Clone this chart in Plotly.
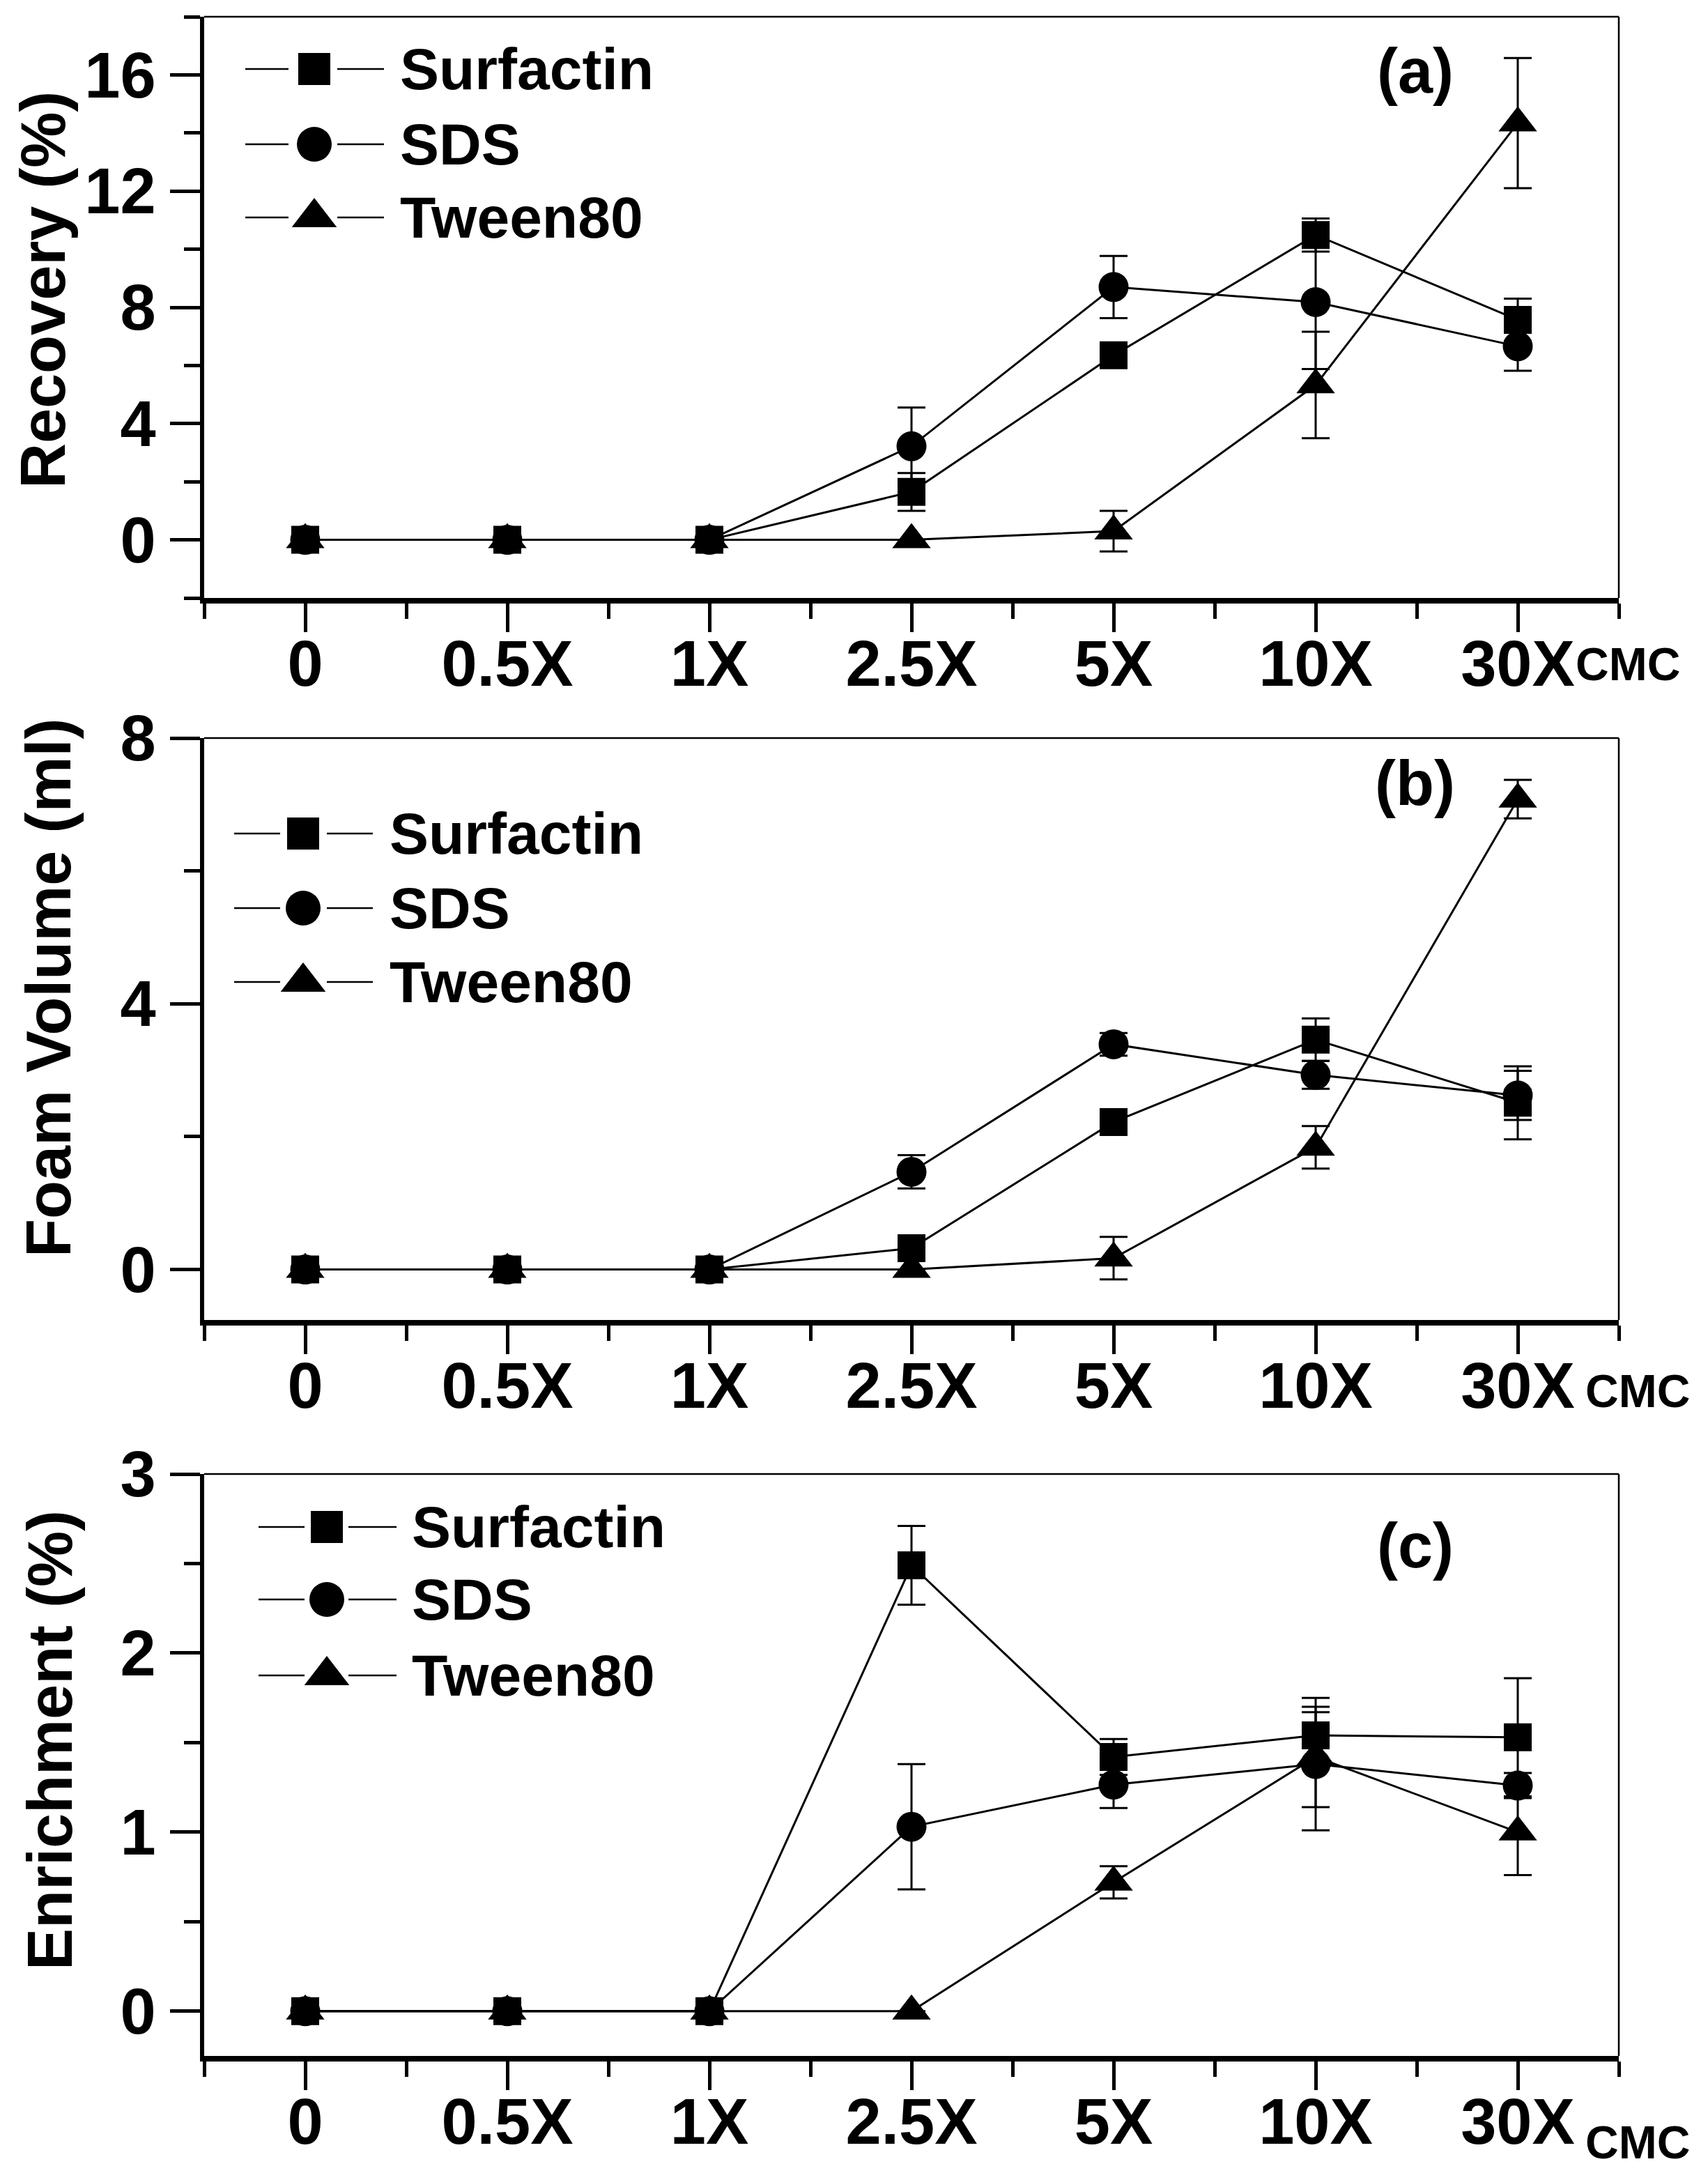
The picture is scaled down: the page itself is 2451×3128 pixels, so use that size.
import plotly.graph_objects as go

# ---------------- data ----------------
CATEGORIES = ["0", "0.5X", "1X", "2.5X", "5X", "10X", "30X"]
SERIES_NAMES = ["Surfactin", "SDS", "Tween80"]

RECOVERY_SURFACTIN = [0, 0, 0, 1.65, 6.35, 10.49, 7.57]
RECOVERY_SURFACTIN_ERR = [0, 0, 0, 0.65, 0.12, 0.57, 0.73]
RECOVERY_SDS = [0, 0, 0, 3.22, 8.70, 8.18, 6.66]
RECOVERY_SDS_ERR = [0, 0, 0, 1.33, 1.07, 2.30, 0.84]
RECOVERY_TWEEN80 = [0, 0, 0, 0, 0.30, 5.33, 14.34]
RECOVERY_TWEEN80_ERR = [0, 0, 0, 0, 0.70, 1.83, 2.24]

FOAM_SURFACTIN = [0, 0, 0, 0.32, 2.22, 3.46, 2.51]
FOAM_SURFACTIN_ERR = [0, 0, 0, 0.08, 0.08, 0.32, 0.55]
FOAM_SDS = [0, 0, 0, 1.47, 3.39, 2.93, 2.62]
FOAM_SDS_ERR = [0, 0, 0, 0.25, 0.17, 0.21, 0.37]
FOAM_TWEEN80 = [0, 0, 0, 0, 0.17, 1.84, 7.08]
FOAM_TWEEN80_ERR = [0, 0, 0, 0, 0.32, 0.32, 0.29]

ENRICH_SURFACTIN = [0, 0, 0, 2.49, 1.42, 1.54, 1.53]
ENRICH_SURFACTIN_ERR = [0, 0, 0, 0.22, 0.10, 0.13, 0.33]
ENRICH_SDS = [0, 0, 0, 1.03, 1.265, 1.38, 1.26]
ENRICH_SDS_ERR = [0, 0, 0, 0.35, 0.13, 0.37, 0.07]
ENRICH_TWEEN80 = [0, 0, 0, 0, 0.72, 1.42, 1.00]
ENRICH_TWEEN80_ERR = [0, 0, 0, 0, 0.09, 0.28, 0.24]

Y_TITLES = ["Recovery (%)", "Foam Volume (ml)", "Enrichment (%)"]
PANEL_LABELS = ["(a)", "(b)", "(c)"]
X_UNIT = "CMC"

# ---------------- style / layout (pixels) ----------------
W, H = 2451, 3128
FONT = "Liberation Sans"
PLOT_LEFT, PLOT_RIGHT = 293, 2323
PANELS = [
    dict(top=24, bottom=858, yrange=[-2, 18], dtick=4, minor=2,
         values=[(RECOVERY_SURFACTIN, RECOVERY_SURFACTIN_ERR),
                 (RECOVERY_SDS, RECOVERY_SDS_ERR),
                 (RECOVERY_TWEEN80, RECOVERY_TWEEN80_ERR)],
         title_xy=(62, 416), label_xy=(2031, 102), cmc_xy=(2336, 953),
         leg=dict(l0=352, l1=414, m=451, r0=484, r1=551, tx=572, rows=[99, 207, 312])),
    dict(top=1059, bottom=1894, yrange=[-0.76, 8], dtick=4, minor=2,
         values=[(FOAM_SURFACTIN, FOAM_SURFACTIN_ERR),
                 (FOAM_SDS, FOAM_SDS_ERR),
                 (FOAM_TWEEN80, FOAM_TWEEN80_ERR)],
         title_xy=(70, 1418), label_xy=(2030, 1124), cmc_xy=(2350, 1996),
         leg=dict(l0=336, l1=402, m=435, r0=469, r1=535, tx=557, rows=[1196, 1303, 1409])),
    dict(top=2115, bottom=2950, yrange=[-0.25, 3], dtick=1, minor=0.5,
         values=[(ENRICH_SURFACTIN, ENRICH_SURFACTIN_ERR),
                 (ENRICH_SDS, ENRICH_SDS_ERR),
                 (ENRICH_TWEEN80, ENRICH_TWEEN80_ERR)],
         title_xy=(72, 2497), label_xy=(2031, 2218), cmc_xy=(2350, 3074),
         leg=dict(l0=371, l1=437, m=469, r0=500, r1=569, tx=589, rows=[2191, 2295, 2404])),
]
SYMBOLS = ["square", "circle", "triangle-up"]
MARKER_SIZES = [40, 43, 48]
LEGEND_MARKER_SIZES = [46, 50, 56]

x_pos = list(range(len(CATEGORIES)))

fig = go.Figure()
layout = dict(
    template="none",
    width=W, height=H, autosize=False,
    margin=dict(l=0, r=0, t=0, b=0, pad=0, autoexpand=False),
    paper_bgcolor="white", plot_bgcolor="rgba(0,0,0,0)",
    showlegend=False,
    font=dict(family=FONT, color="black"),
)
shapes = []
annotations = []

for i, p in enumerate(PANELS):
    n = "" if i == 0 else str(i + 1)
    xa, ya = "x" + n, "y" + n
    for s, (vals, errs) in enumerate(p["values"]):
        fig.add_trace(go.Scatter(
            x=x_pos, y=vals, name=SERIES_NAMES[s], mode="lines+markers",
            xaxis=xa, yaxis=ya,
            line=dict(color="black", width=3),
            marker=dict(symbol=SYMBOLS[s], size=MARKER_SIZES[s], color="black",
                        line=dict(width=0)),
            error_y=dict(type="data", array=errs, visible=True, color="black",
                         thickness=3, width=20),
            cliponaxis=False,
        ))
    layout["xaxis" + n] = dict(
        domain=[PLOT_LEFT / W, PLOT_RIGHT / W], anchor=ya, automargin=False,
        range=[-0.5, len(CATEGORIES) - 0.5],
        tickmode="array", tickvals=x_pos, ticktext=CATEGORIES,
        ticks="outside", ticklen=41, tickwidth=5, tickcolor="black",
        showline=True, linewidth=8, linecolor="black", mirror=False,
        showgrid=False, zeroline=False, fixedrange=True,
        tickfont=dict(family=FONT, size=92, weight="bold", color="black"),
        ticklabelstandoff=-33,
        minor=dict(tick0=0.5, dtick=1, ticks="outside", ticklen=22,
                   tickwidth=5, tickcolor="black", showgrid=False),
    )
    layout["yaxis" + n] = dict(
        domain=[1 - p["bottom"] / H, 1 - p["top"] / H], anchor=xa, automargin=False,
        range=p["yrange"], tick0=0, dtick=p["dtick"],
        ticks="outside", ticklen=43, tickwidth=5, tickcolor="black",
        showline=True, linewidth=6, linecolor="black", mirror=False,
        showgrid=False, zeroline=False, fixedrange=True,
        tickfont=dict(family=FONT, size=92, weight="bold", color="black"),
        ticklabelstandoff=2,
        minor=dict(tick0=0, dtick=p["minor"], ticks="outside", ticklen=23,
                   tickwidth=5, tickcolor="black", showgrid=False),
    )
    # thin top / right frame
    shapes.append(dict(type="line", xref=xa + " domain", yref=ya + " domain",
                       x0=0, x1=1, y0=1, y1=1, line=dict(color="black", width=2.5)))
    shapes.append(dict(type="line", xref=xa + " domain", yref=ya + " domain",
                       x0=1, x1=1, y0=0, y1=1, line=dict(color="black", width=2.5)))

    # texts on the full-figure pixel overlay
    tx, ty = p["title_xy"]
    annotations.append(dict(xref="x4", yref="y4", x=tx, y=ty, text=Y_TITLES[i],
                            textangle=-90, showarrow=False,
                            font=dict(family=FONT, size=90, weight="bold")))
    lx, ly = p["label_xy"]
    annotations.append(dict(xref="x4", yref="y4", x=lx, y=ly, text=PANEL_LABELS[i],
                            showarrow=False, font=dict(family=FONT, size=90, weight="bold")))
    cx, cy = p["cmc_xy"]
    annotations.append(dict(xref="x4", yref="y4", x=cx, y=cy, text=X_UNIT,
                            showarrow=False, font=dict(family=FONT, size=66, weight="bold")))

    # legend keys
    lg = p["leg"]
    for s, row in enumerate(lg["rows"]):
        fig.add_trace(go.Scatter(
            x=[lg["l0"], lg["l1"], None, lg["r0"], lg["r1"]], y=[row] * 2 + [None] + [row] * 2,
            mode="lines", xaxis="x4", yaxis="y4", line=dict(color="black", width=2.5),
            hoverinfo="skip"))
        fig.add_trace(go.Scatter(
            x=[lg["m"]], y=[row], mode="markers", xaxis="x4", yaxis="y4",
            marker=dict(symbol=SYMBOLS[s], size=LEGEND_MARKER_SIZES[s], color="black",
                        line=dict(width=0)), hoverinfo="skip"))
        annotations.append(dict(xref="x4", yref="y4", x=lg["tx"], y=row, text=SERIES_NAMES[s],
                                xanchor="left", yanchor="middle", showarrow=False,
                                font=dict(family=FONT, size=84, weight="bold")))

layout["xaxis4"] = dict(domain=[0, 1], range=[0, W], visible=False, anchor="y4",
                        fixedrange=True, automargin=False)
layout["yaxis4"] = dict(domain=[0, 1], range=[H, 0], visible=False, anchor="x4",
                        fixedrange=True, automargin=False)
layout["shapes"] = shapes
layout["annotations"] = annotations
fig.update_layout(**layout)

fig.write_html("out.html", config={"displayModeBar": False},
               post_script="document.body.style.margin='0';")
